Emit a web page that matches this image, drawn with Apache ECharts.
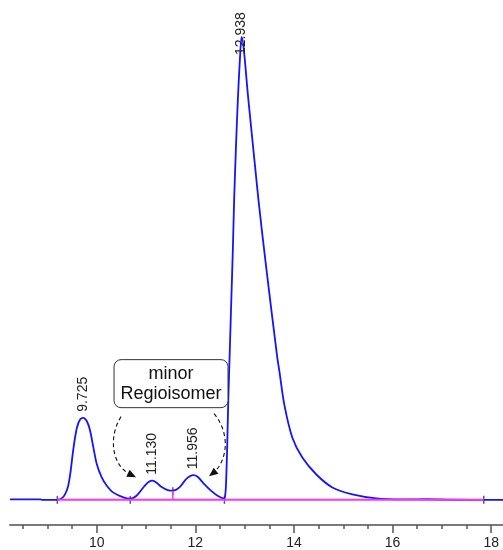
<!DOCTYPE html>
<html>
<head>
<meta charset="utf-8">
<script src="https://cdn.jsdelivr.net/npm/echarts@6/dist/echarts.min.js"></script>
<style>
  html, body { margin: 0; padding: 0; background: #fff; }
  #chart { width: 503px; height: 550px; }
</style>
</head>
<body>
<div id="chart"></div>
<script>
// Chromatogram signal: retention time (min) vs detector response (arbitrary units)
const signal = [
  [8.24, 0.4], [8.85, 0.4], [8.9, 0], [9.2, 0], [9.3, 2], [9.361, 6], [9.42, 14],
  [9.462, 26], [9.529, 52.5], [9.597, 72.5], [9.664, 81], [9.725, 82.5], [9.799, 79],
  [9.865, 69.5], [9.932, 52.5], [10.0, 36], [10.10, 22.5], [10.20, 14.5], [10.33, 7.5],
  [10.54, 2.5], [10.68, 1.2], [10.76, 2.5], [10.838, 5.8], [10.973, 14.2], [11.05, 18],
  [11.13, 19.3], [11.208, 17.5], [11.309, 13.2], [11.442, 9.8], [11.543, 9.2],
  [11.678, 12.5], [11.813, 20.8], [11.956, 24.8], [12.046, 23.2], [12.181, 15.8],
  [12.316, 9.2], [12.449, 4.2], [12.584, 1.2], [12.600, 3], [12.619, 12.7],
  [12.645, 52.7], [12.669, 102.7], [12.700, 152.7], [12.730, 202.7], [12.761, 252.7],
  [12.787, 302.7], [12.822, 352.7], [12.862, 402.7], [12.903, 442.7], [12.938, 465.5],
  [13.075, 402.5], [13.278, 302.5], [13.440, 232.5], [13.663, 142.5], [13.704, 129.5],
  [13.805, 95.5], [13.968, 62.5], [14.170, 42.5], [14.454, 25.5], [14.779, 12.5],
  [15.185, 5.5], [15.671, 1.5], [16.199, 0.5], [16.7, 0.6], [17.2, 0.1], [18.24, 0]
];

// Integrated peaks: retention time and apex response
const peakTimes = [9.725, 11.130, 11.956, 12.938];
const peakHeights = [82.5, 19.3, 24.8, 465.5];

// Integration baseline and the valley drop line
const baseline = [[9.2, 0], [17.85, 0]];
const dropLine = [[11.543, 0], [11.543, 9.2]];
// Peak start / end markers
const eventMarks = [[9.2, 0], [10.68, 0], [12.59, 0], [17.85, 0], [11.543, 8.7]];

// Axis ticks
const majorTicks = [10, 12, 14, 16, 18];
const minorTicks = [8.5, 9, 9.5, 10.5, 11, 11.5, 12.5, 13, 13.5, 14.5, 15, 15.5, 16.5, 17, 17.5];

// Annotation (data coordinates)
const noteLines = ['minor', 'Regioisomer'];
const noteBox = { t0: 10.35, t1: 12.662, h0: 92.7, h1: 141 };
const leftArrow = { p0: [10.492, 83.7], c1: [10.228, 62.7], c2: [10.309, 34.7], p1: [10.674, 25.7], tip: [10.796, 22.7] };
const rightArrow = { p0: [12.378, 86.7], c1: [12.703, 67.7], c2: [12.662, 40.7], p1: [12.378, 27.7], tip: [12.277, 23.7] };

const X_MIN = 8.24, X_MAX = 18.24;
const FONT = 'Liberation Sans, Arial, sans-serif';

const chart = echarts.init(document.getElementById('chart'), null, { renderer: 'canvas' });

const peakMarks = peakTimes.map((t, i) => ({
  coord: [t, peakHeights[i]],
  value: t.toFixed(3),
  label: { distance: i === 3 ? -18 : 6 }
}));

chart.setOption({
  animation: false,
  backgroundColor: '#ffffff',
  grid: { left: 10, right: 0, top: 0, bottom: 22, containLabel: false },
  xAxis: [
    {
      type: 'value', min: X_MIN, max: X_MAX, position: 'bottom',
      axisLine: { show: true, onZero: false, lineStyle: { color: '#7a7a7a', width: 2 } },
      axisTick: { show: true, customValues: majorTicks, length: 8, lineStyle: { color: '#555', width: 1.5 } },
      axisLabel: { show: true, customValues: majorTicks, margin: 11, fontSize: 14, color: '#222', fontFamily: FONT },
      splitLine: { show: false }
    },
    {
      type: 'value', min: X_MIN, max: X_MAX, position: 'bottom', offset: 0,
      axisLine: { show: false, onZero: false },
      axisTick: { show: true, customValues: minorTicks, length: 4, lineStyle: { color: '#555', width: 1.5 } },
      axisLabel: { show: false },
      splitLine: { show: false }
    }
  ],
  yAxis: { type: 'value', min: -25.3, max: 502.7, show: false, splitLine: { show: false } },
  series: [
    {
      type: 'line', data: signal, smooth: 0.3, symbol: 'none',
      lineStyle: { color: '#1414ff', width: 1.8 },
      markPoint: {
        symbol: 'circle', symbolSize: 0,
        label: {
          show: true, position: 'top', rotate: 90, align: 'left', verticalAlign: 'middle',
          fontSize: 14, color: '#222', fontFamily: FONT,
          formatter: p => p.value
        },
        data: peakMarks
      }
    },
    {
      type: 'line', data: baseline, symbol: 'none',
      lineStyle: { color: '#ff33ff', width: 2 }
    },
    {
      type: 'line', data: dropLine, symbol: 'none',
      lineStyle: { color: '#ff33ff', width: 1.5 }
    },
    {
      type: 'scatter', data: eventMarks, symbol: 'rect', symbolSize: [1.5, 8],
      itemStyle: { color: '#333' }
    }
  ]
});

// Annotation box with curved dashed arrows, placed through the chart's scales
function px(pt) { return chart.convertToPixel({ gridIndex: 0 }, pt); }

function arrowGraphics(a) {
  const p0 = px(a.p0), c1 = px(a.c1), c2 = px(a.c2), p1 = px(a.p1), tip = px(a.tip);
  const dx = tip[0] - p1[0], dy = tip[1] - p1[1];
  const len = Math.hypot(dx, dy) || 1;
  const ux = dx / len, uy = dy / len;
  const headLen = 9, headW = 3.8;
  const bx = tip[0] - ux * headLen, by = tip[1] - uy * headLen;
  return [
    {
      type: 'bezierCurve',
      shape: { x1: p0[0], y1: p0[1], cpx1: c1[0], cpy1: c1[1], cpx2: c2[0], cpy2: c2[1], x2: p1[0], y2: p1[1] },
      style: { stroke: '#111', lineWidth: 1.1, lineDash: [4, 3], fill: null },
      z: 10
    },
    {
      type: 'polygon',
      shape: { points: [tip, [bx - uy * headW, by + ux * headW], [bx + uy * headW, by - ux * headW]] },
      style: { fill: '#111' },
      z: 10
    }
  ];
}

const tl = px([noteBox.t0, noteBox.h1]);
const br = px([noteBox.t1, noteBox.h0]);
const boxW = br[0] - tl[0], boxH = br[1] - tl[1];

chart.setOption({
  graphic: [
    {
      type: 'rect',
      shape: { x: tl[0], y: tl[1], width: boxW, height: boxH, r: 7 },
      style: { fill: '#fff', stroke: '#333', lineWidth: 1 },
      z: 10
    },
    {
      type: 'text',
      x: tl[0] + boxW / 2, y: tl[1] + boxH / 2,
      style: {
        text: noteLines.join('\n'), align: 'center', verticalAlign: 'middle',
        font: '18px ' + FONT, fill: '#111', lineHeight: 20
      },
      z: 11
    },
    ...arrowGraphics(leftArrow),
    ...arrowGraphics(rightArrow)
  ]
});
</script>
</body>
</html>
